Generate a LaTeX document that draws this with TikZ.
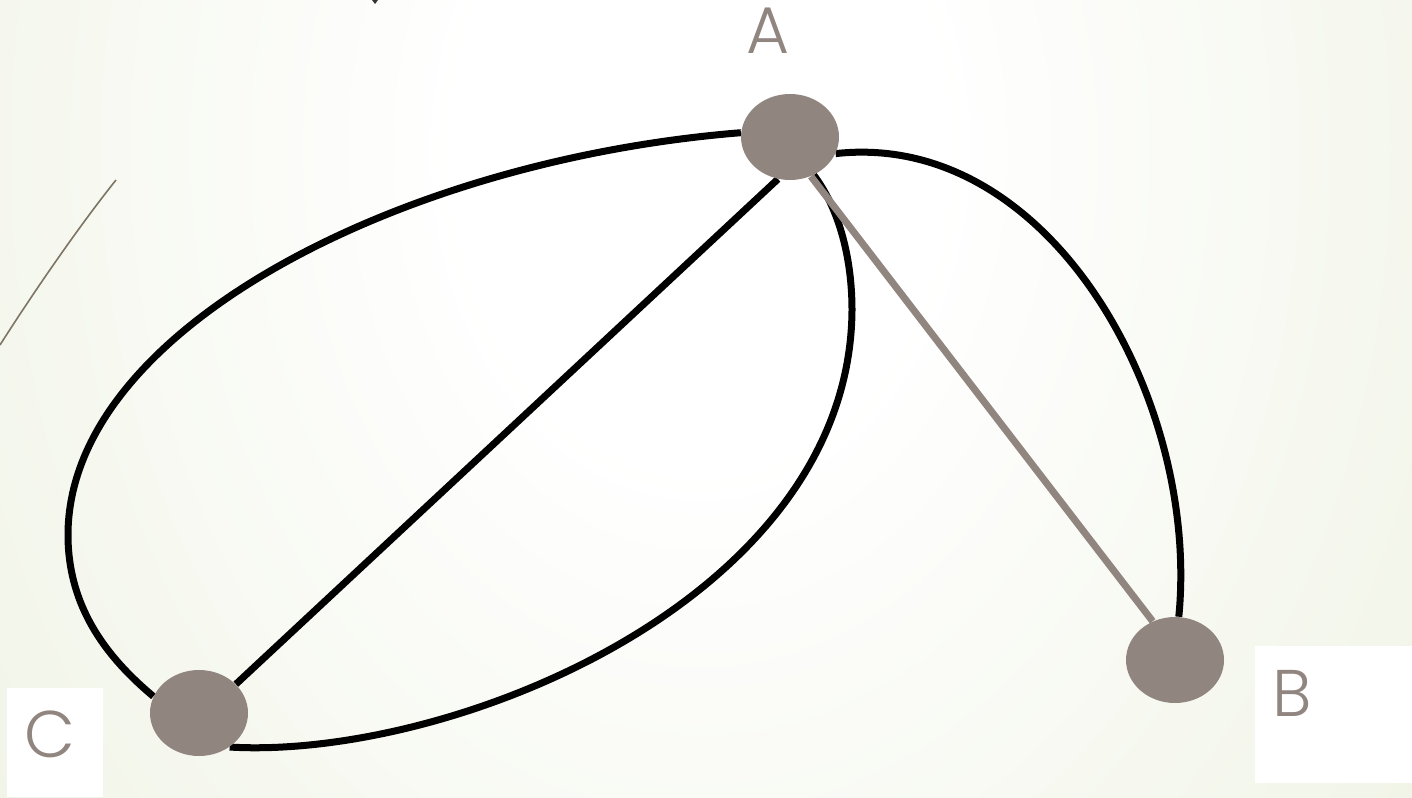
\documentclass[tikz,border=0pt]{standalone}
\usepackage{fontspec}
\newfontfamily\lblfont{Poppins Light}
\usetikzlibrary{shapes.geometric}
\definecolor{nodegray}{HTML}{918580}
\definecolor{bgA}{HTML}{EFF3E4}
\definecolor{bgB}{HTML}{E4EBD1}
\definecolor{bgC}{HTML}{DBE4C2}
\definecolor{thinline}{HTML}{7D7464}
\pgfdeclareradialshading{bgshade}{\pgfpoint{0bp}{0bp}}{color(0bp)=(white); color(6bp)=(white); color(24bp)=(bgA); color(35bp)=(bgB); color(55bp)=(bgC)}
\pgfdeclarelayer{bglayer}
\pgfdeclarelayer{edgelayer}
\pgfsetlayers{bglayer,edgelayer,main}
\begin{document}
\begin{tikzpicture}[x=0.5pt,y=-0.5pt,
  vertex/.style={ellipse, fill=nodegray, minimum width=49pt, minimum height=43pt, inner sep=0pt},
  edge/.style={line width=3.5pt, black},
  grayedge/.style={line width=3.5pt, nodegray},
  lbl/.style={font=\lblfont\fontsize{33}{33}\selectfont, text=nodegray, inner sep=0pt},
  lblbox/.style={fill=white}]
\useasboundingbox (0,0) rectangle (1412,797);
\begin{pgfonlayer}{bglayer}
\begin{scope}
\clip (0,0) rectangle (1412,797);
\shade[shading=bgshade] (-300,-1150) rectangle (1700,1450);
\end{scope}
\fill[black!80] (372,0) -- (378,0) -- (375,4) -- cycle;
\draw[thinline, line width=0.8pt] (0,345) .. controls (35,290) and (80,225) .. (116,180);
\fill[lblbox] (727,0) rectangle (822,65);
\fill[lblbox] (1255,646) rectangle (1412,783);
\fill[lblbox] (7,688) rectangle (103,797);
\end{pgfonlayer}

\node[vertex] (A) at (790,137) {};
\node[vertex] (B) at (1175,660) {};
\node[vertex] (C) at (199,713) {};

\node[lbl] (ta) at (768,31) {A};
\node[lbl] (tb) at (1292,693) {B};
\node[lbl] (tc) at (50,734) {C};

\begin{pgfonlayer}{edgelayer}
\draw[edge] (A.175) .. controls (400,160) and (68,330) .. (68,535)
  .. controls (68,610) and (110,660) .. (C.160);
\draw[edge] (A.-58) .. controls (840,210) and (852,260) .. (852,310)
  .. controls (850,600) and (450,760) .. (C.-48);
\draw[edge] (A.-20) .. controls (1050,130) and (1200,400) .. (B.85);
\draw[edge] (A.254) -- (C.38);
\draw[grayedge] (A.-62) -- (B.120);
\end{pgfonlayer}
\end{tikzpicture}
\end{document}
